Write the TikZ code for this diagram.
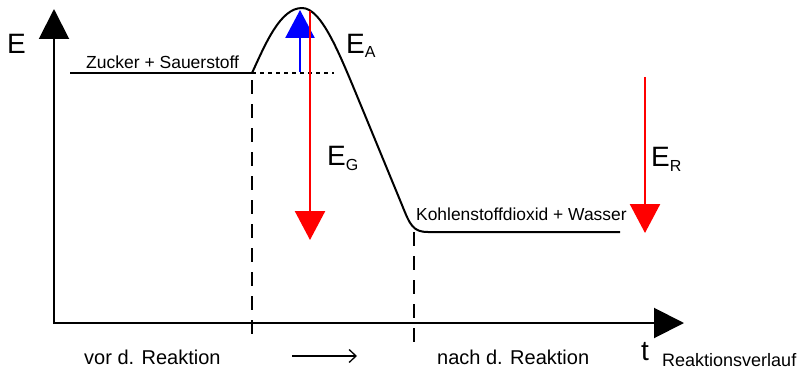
\documentclass[tikz,border=0pt]{standalone}
\usepackage{fontspec}
\setmainfont{Liberation Sans}
\usetikzlibrary{arrows.meta}
\tikzset{
  lbl/.style={inner sep=0pt, anchor=base west},
  axis/.style={line width=2pt, -{Triangle[width=30pt,length=30pt]}},
  redarrow/.style={draw=red, line width=2.5pt, -{Triangle[width=30pt,length=29pt]}, color=red},
  bluearrow/.style={draw=blue, line width=2.5pt, -{Triangle[width=29pt,length=28pt]}, color=blue},
  dashv/.style={line width=2pt, dash pattern=on 14pt off 10pt},
  dotl/.style={line width=2pt, dash pattern=on 4pt off 4pt},
  big/.style={font=\fontsize{28}{28}\selectfont},
}
\newcommand{\subtxt}[1]{{\fontsize{16}{16}\selectfont\raisebox{-5pt}{#1}}}
\begin{document}
\begin{tikzpicture}[x=1pt,y=-1pt]
\useasboundingbox (0,0) rectangle (803,369);
% axes
\coordinate (O) at (54,323);
\coordinate (Ytop) at (54,9);
\coordinate (Xend) at (684,323);
\draw[axis] (54,324) -- (Ytop);
\draw[axis] (O) -- (Xend);
% levels
\coordinate (L0) at (70,73);
\coordinate (L1) at (252,73);
\coordinate (P) at (302,8);
\coordinate (R0) at (428,232);
\coordinate (R1) at (620,232);
\draw[line width=2pt] (L0) -- (L1);
\draw[line width=2pt, line join=round] (L1) .. controls (265,45) and (280,8) .. (P)
  .. controls (322,8) and (340,55) .. (362,108) -- (402,205)
  .. controls (410,225) and (413,232) .. (R0) -- (R1);
% dotted
\coordinate (D1) at (334,73);
\draw[dotl] (L1) -- (D1);
% vertical dashed
\coordinate (V1a) at (252,80);
\coordinate (V1b) at (252,336);
\draw[dashv] (V1a) -- (V1b);
\coordinate (V2a) at (414,232);
\coordinate (V2b) at (414,342);
\draw[dashv] (V2a) -- (V2b);
% energy arrows
\coordinate (Ba) at (300,72);
\coordinate (Bb) at (300,10);
\draw[bluearrow] (Ba) -- (Bb);
\coordinate (Ga) at (310,11);
\coordinate (Gb) at (310,240);
\draw[redarrow] (Ga) -- (Gb);
\coordinate (Ra) at (645,77);
\coordinate (Rb) at (645,233);
\draw[redarrow] (Ra) -- (Rb);
% labels
\node[lbl, big] (E) at (7,53) {E};
\node[lbl, font=\fontsize{17.5}{17.5}\selectfont] (zs) at (86,68) {Zucker + Sauerstoff};
\node[lbl, font=\fontsize{17.4}{17.4}\selectfont] (kw) at (416,220) {Kohlenstoffdioxid + Wasser};
\node[lbl, big] (EA) at (346,53) {E\subtxt{A}};
\node[lbl, big] (EG) at (327,165) {E\subtxt{G}};
\node[lbl, big] (ER) at (651,166) {E\subtxt{R}};
\node[lbl, font=\fontsize{20}{20}\selectfont] (vor) at (84,364) {vor d. Reaktion};
\node[lbl, font=\fontsize{20}{20}\selectfont] (nach) at (437,364) {nach d. Reaktion};
\node[lbl, big] (t) at (641,360) {t};
\node[lbl, font=\fontsize{18}{18}\selectfont] (rv) at (662,366) {Reaktionsverlauf};
\coordinate (A1) at (292,356);
\coordinate (A2) at (357,356);
\draw[line width=1.3pt, -{Straight Barb[length=7pt,width=13pt]}] (A1) -- (A2);
\end{tikzpicture}
\end{document}
